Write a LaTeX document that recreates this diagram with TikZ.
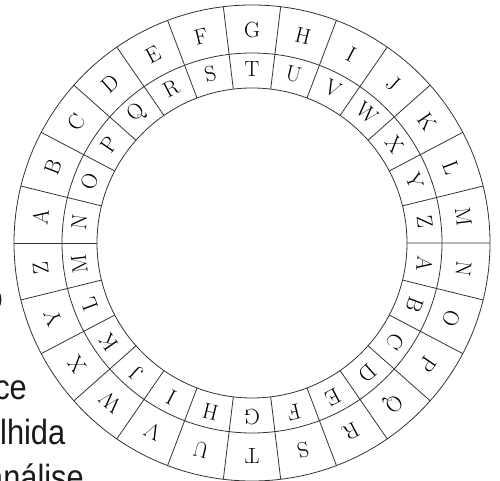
\documentclass[tikz,border=0pt]{standalone}
\usepackage{fontspec}
\newfontfamily\pagefont[FakeStretch=0.88]{Liberation Sans}
\tikzset{
  ring/.style={draw=black!80, line width=0.8pt},
  letter/.style={inner sep=0pt, font=\fontsize{22}{22}\selectfont},
  pagetext/.style={inner sep=0pt, font=\pagefont\fontsize{35}{35}\selectfont, text=black!90}
}
\begin{document}
\begin{tikzpicture}[x=1pt,y=1pt]
  \useasboundingbox (0,0) rectangle (500,481);
  \clip (0,0) rectangle (500,481);
  % bits of the page text cut by the frame
  \node[pagetext, anchor=base east] (frag) at (3,171) {o};
  \node[pagetext, anchor=base east] (lineA) at (27,81) {ce};
  \node[pagetext, anchor=base west] (lineB) at (0,36) {lhida};
  \node[pagetext, anchor=base east] (lineC) at (84,-9) {análise};
  % the disk
  \coordinate (c) at (252,238);
  \draw[ring] (c) circle(238);
  \draw[ring] (c) circle(190);
  \draw[ring] (c) circle(155);
  \foreach \k in {0,...,25}
    \draw[ring, shift={(c)}] (180-\k*13.846:155) -- (180-\k*13.846:238);
  \foreach \l/\m [count=\i from 0] in {A/N,B/O,C/P,D/Q,E/R,F/S,G/T,H/U,I/V,J/W,K/X,L/Y,M/Z,
      N/A,O/B,P/C,Q/D,R/E,S/F,T/G,U/H,V/I,W/J,X/K,Y/L,Z/M}{
    \pgfmathsetmacro\a{173.077-\i*13.846}
    \node[letter, rotate=\a-90] (out\l) at ([shift={(\a:213)}]c) {\l};
    \node[letter, rotate=\a-90] (in\m) at ([shift={(\a:174)}]c) {\m};
  }
\end{tikzpicture}
\end{document}
